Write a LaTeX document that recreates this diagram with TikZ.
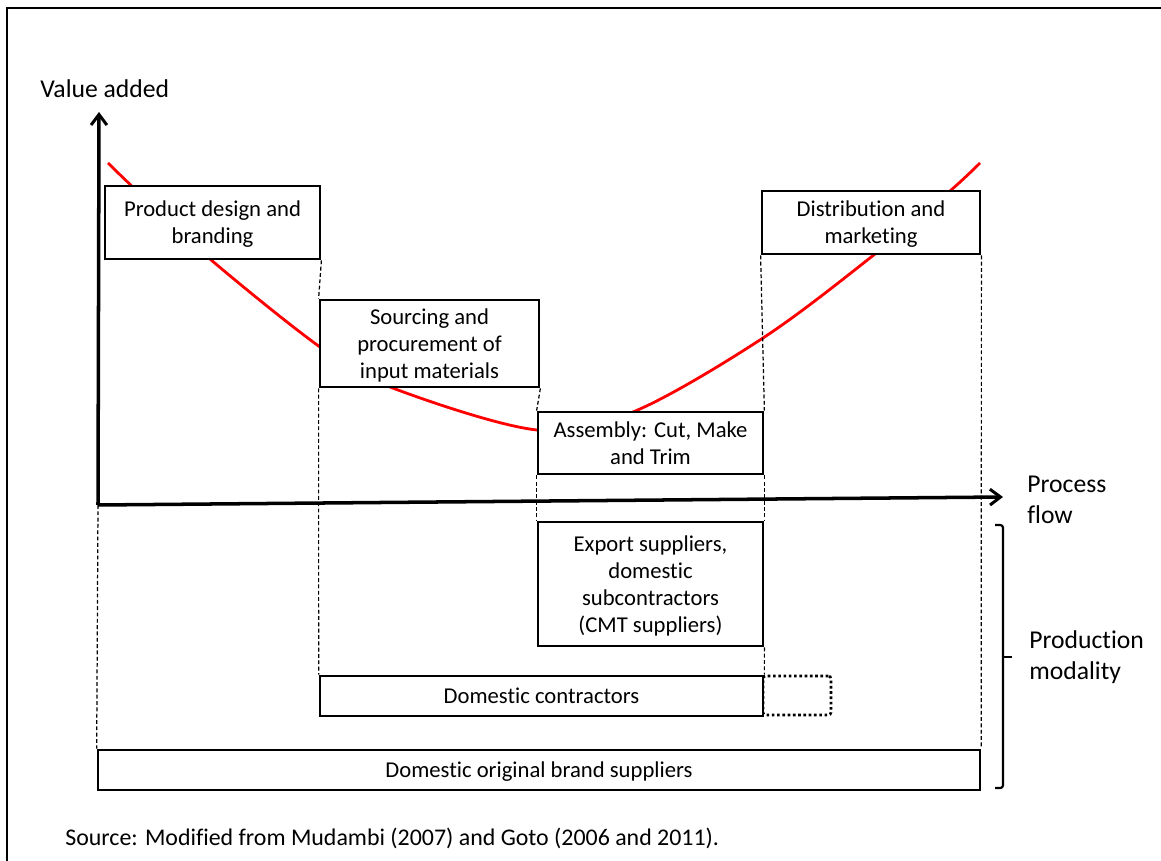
\documentclass[tikz,border=0pt]{standalone}
\usepackage{fontspec}
\setmainfont[Ligatures=NoCommon]{Carlito}
\usetikzlibrary{arrows.meta, positioning}

\tikzset{
  stage/.style={draw, line width=1.6pt, fill=white, align=center, inner sep=2pt,
    font=\fontsize{12.9}{15.5}\selectfont, text depth=0pt},
  guide/.style={line width=0.7pt, dash pattern=on 2.2pt off 1.4pt, black},
  axis/.style={line width=2pt, -{Straight Barb[length=6pt, width=9pt, line width=1.7pt]}},
  biglabel/.style={font=\fontsize{14.6}{17.8}\selectfont, align=left, inner sep=0pt, anchor=west}
}

\begin{document}
\begin{tikzpicture}[x=0.02cm, y=-0.02cm]
\useasboundingbox (0,0) rectangle (1161,861);
\draw[line width=1.7pt] (7,8) rectangle (1180,880);

% value curve
\draw[red, line width=1.6pt] plot[smooth, tension=0.55] coordinates
  {(108,163) (137,191) (210,259) (320,347) (390,387) (537,430) (633,412) (763,338) (875,254) (950,191) (980,163)};

% stages
\node[stage, minimum width=4.3cm, minimum height=1.46cm] (design) at (212.5,222.5) {Product design and\\branding};
\node[stage, minimum width=4.38cm, minimum height=1.74cm] (sourcing) at (429.5,343.5) {Sourcing and\\procurement of\\input materials};
\node[stage, minimum width=4.5cm, minimum height=1.24cm] (assembly) at (650.5,443) {Assembly: Cut, Make\\and Trim};
\node[stage, minimum width=4.36cm, minimum height=1.26cm] (distrib) at (871,222.5) {Distribution and\\marketing};

% production modalities
\node[stage, minimum width=4.5cm, minimum height=2.48cm] (export) at (650.5,584) {Export suppliers,\\domestic\\subcontractors\\(CMT suppliers)};
\node[draw, line width=1.5pt, dash pattern=on 1.5pt off 1.5pt, rounded corners=1.5pt,
  minimum width=1.36cm, minimum height=0.78cm] (extra) at (797,695.5) {};
\node[stage, minimum width=8.86cm, minimum height=0.8cm] (domcon) at (541.5,696) {Domestic contractors};
\node[stage, minimum width=17.64cm, minimum height=0.8cm] (brand) at (539,770) {Domestic original brand suppliers};

% axes
\coordinate (o) at (98,505);
\coordinate (vtip) at (99,112);
\coordinate (htip) at (1003,497);
\draw[axis] (o) -- (vtip);
\draw[axis] (o) -- (htip);

% guides
\draw[guide] (design.south east) -- (sourcing.north west);
\draw[guide] (sourcing.south west) -- (domcon.north west);
\draw[guide] (sourcing.south east) -- (assembly.north west);
\draw[guide] (assembly.south west) -- (export.north west);
\draw[guide] (distrib.south west) -- (assembly.north east);
\draw[guide] (assembly.south east) -- (export.north east);
\draw[guide] (export.south east) -- (domcon.north east);
\draw[guide] (distrib.south east) -- (brand.north east);
\draw[guide] (o) -- (brand.north west);

% bracket
\draw[line width=1.2pt, rounded corners=1.5pt] (995,525) -- (1003,525) -- (1003,788) -- (995,788);
\draw[line width=1.5pt] (1003,657) -- (1012,657);

% labels
\node[biglabel] (vlabel) at (40,89) {Value added};
\node[biglabel] (flabel) at (1027,500) {Process\\flow};
\node[biglabel] (mlabel) at (1029,657) {Production\\modality};
\node[inner sep=0pt, anchor=west, font=\fontsize{13.6}{16}\selectfont] (source) at (65,838)
  {Source: Modified from Mudambi (2007) and Goto (2006 and 2011).};
\end{tikzpicture}
\end{document}
